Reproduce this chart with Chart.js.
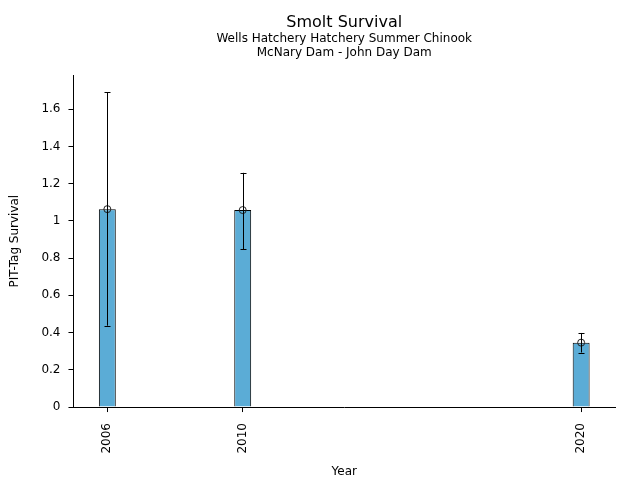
<!DOCTYPE html>
<html>
<head>
<meta charset="utf-8">
<script src="https://cdn.jsdelivr.net/npm/chart.js@4/dist/chart.umd.min.js"></script>
<style>
html,body{margin:0;padding:0;background:#fff;}
#wrap{width:640px;height:480px;}
</style>
</head>
<body>
<div id="wrap"><canvas id="c" width="640" height="480"></canvas></div>
<script>
const years = [2006, 2010, 2020];
const survival = [1.063, 1.058, 0.346];
const errLow = [0.437, 0.848, 0.293];
const errHigh = [1.690, 1.258, 0.398];
const xTicks = [2006, 2010, 2020];
const yTicks = [0, 0.2, 0.4, 0.6, 0.8, 1.0, 1.2, 1.4, 1.6];

const FONT = "'DejaVu Sans', sans-serif";

const errorBarPlugin = {
  id: 'errorBars',
  afterDatasetsDraw(chart) {
    const ctx = chart.ctx;
    const xs = chart.scales.x, ys = chart.scales.y;
    ctx.save();
    ctx.strokeStyle = '#000';
    ctx.lineWidth = 1;
    years.forEach((yr, i) => {
      const px = Math.round(xs.getPixelForValue(yr)) + 0.5;
      const lo = ys.getPixelForValue(errLow[i]);
      const hi = ys.getPixelForValue(errHigh[i]);
      ctx.beginPath();
      ctx.moveTo(px, lo); ctx.lineTo(px, hi);
      ctx.moveTo(px - 3, Math.round(lo) + 0.5); ctx.lineTo(px + 3, Math.round(lo) + 0.5);
      ctx.moveTo(px - 3, Math.round(hi) + 0.5); ctx.lineTo(px + 3, Math.round(hi) + 0.5);
      ctx.stroke();
    });
    ctx.restore();
  }
};

new Chart(document.getElementById('c'), {
  type: 'bar',
  data: {
    datasets: [
      {
        type: 'scatter',
        data: years.map((x, i) => ({x, y: survival[i]})),
        pointStyle: 'circle',
        pointRadius: 3.5,
        pointBackgroundColor: 'rgba(0,0,0,0)',
        pointBorderColor: '#222',
        pointBorderWidth: 1,
        order: 0
      },
      {
        type: 'bar',
        data: years.map((x, i) => ({x, y: survival[i]})),
        backgroundColor: '#5bacd6',
        borderColor: '#000',
        borderWidth: 1,
        categoryPercentage: 1,
        barPercentage: 0.125,
        order: 1
      }
    ]
  },
  options: {
    responsive: false,
    animation: false,
    layout: { padding: { left: 8, right: 25, top: 4, bottom: 1 } },
    plugins: {
      legend: { display: false },
      tooltip: { enabled: false },
      title: {
        display: true,
        fullSize: false,
        text: 'Smolt Survival',
        color: '#000',
        font: { family: FONT, size: 16, weight: 'normal' },
        padding: { top: 9, bottom: 0 }
      },
      subtitle: {
        display: true,
        fullSize: false,
        text: ['Wells Hatchery Hatchery Summer Chinook', 'McNary Dam - John Day Dam'],
        color: '#000',
        font: { family: FONT, size: 12, weight: 'normal', lineHeight: 1.17 },
        padding: { top: 0, bottom: 15 }
      }
    },
    scales: {
      x: {
        type: 'linear',
        min: 2005,
        max: 2021,
        offset: false,
        afterBuildTicks(axis) { axis.ticks = xTicks.map(v => ({value: v})); },
        ticks: {
          color: '#000',
          font: { family: FONT, size: 12 },
          minRotation: 90,
          maxRotation: 90,
          autoSkip: false,
          padding: 11,
          callback: v => String(v)
        },
        grid: { offset: false, drawOnChartArea: false, drawTicks: true, tickLength: 5, color: '#000' },
        border: { display: true, color: '#000', width: 1 },
        title: {
          display: true,
          text: 'Year',
          color: '#000',
          font: { family: FONT, size: 12 },
          padding: { top: 0, bottom: 0 }
        }
      },
      y: {
        type: 'linear',
        min: 0,
        max: 1.782,
        afterBuildTicks(axis) { axis.ticks = yTicks.map(v => ({value: v})); },
        ticks: {
          color: '#000',
          font: { family: FONT, size: 12 },
          padding: 8,
          callback: v => String(Math.round(v * 10) / 10)
        },
        grid: { drawOnChartArea: false, drawTicks: true, tickLength: 5, color: '#000' },
        border: { display: true, color: '#000', width: 1 },
        title: {
          display: true,
          text: 'PIT-Tag Survival',
          color: '#000',
          font: { family: FONT, size: 12 },
          padding: { top: 0, bottom: 11 }
        }
      }
    }
  },
  plugins: [errorBarPlugin]
});
</script>
</body>
</html>
